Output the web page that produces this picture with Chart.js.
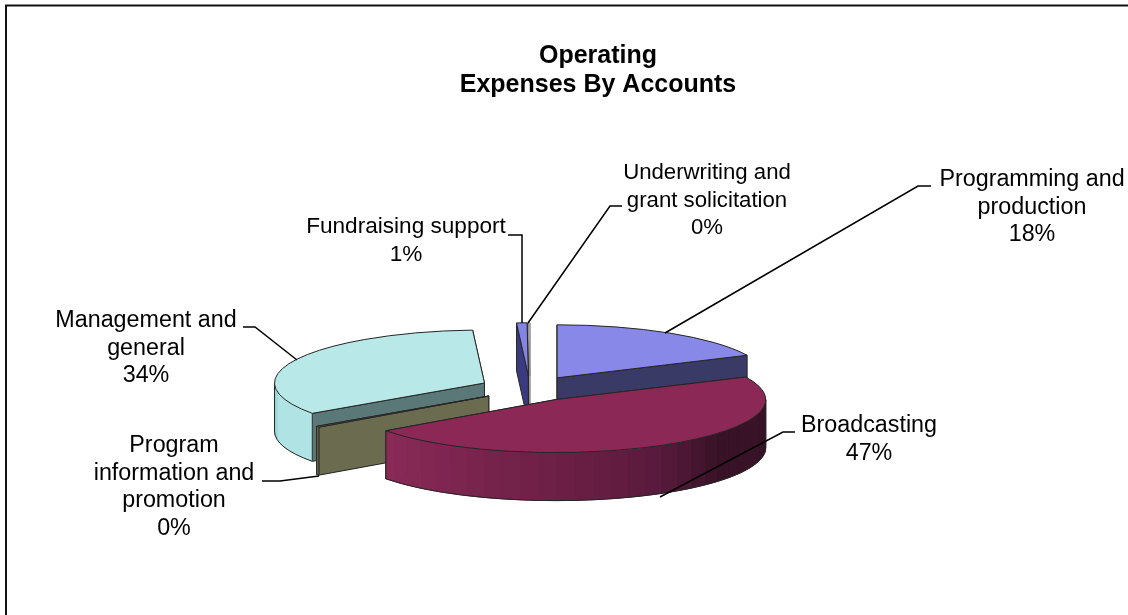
<!DOCTYPE html>
<html>
<head>
<meta charset="utf-8">
<style>html,body{margin:0;padding:0;background:#fff}canvas{display:block}</style>
<script src="https://cdn.jsdelivr.net/npm/chart.js@4"></script>
</head>
<body>
<canvas id="c" width="1128" height="615"></canvas>
<script>
const categories = ['Programming and production','Broadcasting','Program information and promotion','Management and general','Fundraising support','Underwriting and grant solicitation'];
const values = [18.0, 47.0, 0.3, 33.8, 0.8, 0.1];
const labelLines = [['Programming and','production'],['Broadcasting'],['Program','information and','promotion'],['Management and','general'],['Fundraising support'],['Underwriting and','grant solicitation']];
const topColors = ['#8888e8','#8b2855','#6b6b50','#b8e8e8','#8484e4','#ffffff'];
const edgeColors = ['#3a3a66','#3a1228','#6b6b50','#5a7878','#3a3a80','#ffffff'];
const rimStops = [
  [[0,'#3a3a66'],[180,'#3a3a66']],
  [[0,'#381226'],[40,'#381226'],[60,'#581a3c'],[85,'#6a1e44'],[144,'#8a2a58'],[180,'#8a2a58']],
  [[0,'#6b6b50'],[180,'#6b6b50']],
  [[0,'#b4e8e8'],[168,'#b0e4e4'],[180,'#8cc8c8']],
  [[0,'#3a3a80'],[180,'#3a3a80']],
  [[0,'#ffffff'],[180,'#ffffff']]
];
// label layout: text centre, first baseline, font size, leader polyline
const labelLayout = [
  {cx:1032,y:186,size:23.3,lead:[[931,186],[918,186],[665,333]]},
  {cx:869,y:432,size:23.3,lead:[[795,432],[783,432],[660,497]]},
  {cx:174,y:452,size:23.3,lead:[[262,481],[280,481],[319,476]]},
  {cx:146,y:327,size:23.3,lead:[[243,327],[255,327],[297,360]]},
  {cx:406,y:233,size:22.6,lead:[[508,235],[522,235],[522,323]]},
  {cx:707,y:179,size:22.2,lead:[[622,206],[610,206],[528,323]]}
];
const TILT = 0.2524, EXPLODE = 50.6, DEPTH = 48, LINE = 27.6;
const FONT_FAMILY = '"Liberation Sans", Arial, sans-serif';

function hex(c){return [1,3,5].map(i=>parseInt(c.substr(i,2),16));}
function rimColor(stops,deg){
  for(let i=1;i<stops.length;i++){
    if(deg<=stops[i][0]){
      const [a,ca]=stops[i-1],[b,cb]=stops[i];
      const t=(deg-a)/Math.max(b-a,1e-6),A=hex(ca),B=hex(cb);
      return 'rgb('+A.map((v,k)=>Math.round(v+(B[k]-v)*t)).join(',')+')';
    }
  }
  return stops[stops.length-1][1];
}

const pie3d = {
  id:'pie3d',
  afterLayout(chart){
    const t = chart.titleBlock;
    t.left += 68; t.right += 68;
  },
  beforeDraw(chart){
    const ctx = chart.ctx;
    ctx.save();
    ctx.fillStyle='#fff';ctx.fillRect(0,0,chart.width,chart.height);
    ctx.strokeStyle='#111';ctx.lineWidth=2;
    ctx.beginPath();ctx.moveTo(6,chart.height);ctx.lineTo(6,5.5);ctx.lineTo(chart.width,5.5);ctx.stroke();
    ctx.restore();
  },
  beforeDatasetDraw(chart,args){
    const ctx = chart.ctx, arcs = args.meta.data;
    const order = arcs.map((a,i)=>i).sort((p,q)=>{
      const m=i=>Math.sin((arcs[i].startAngle+arcs[i].endAngle)/2);
      return m(p)-m(q);
    });
    ctx.save();
    ctx.lineJoin='round';
    order.forEach(i=>{
      const a = arcs[i], r = a.outerRadius, ry = r*TILT;
      const mid = (a.startAngle+a.endAngle)/2;
      const ax = a.x + Math.cos(mid)*EXPLODE, ay = a.y + Math.sin(mid)*EXPLODE*TILT;
      const P = (ang,d)=>[ax+Math.cos(ang)*r, ay+Math.sin(ang)*ry+(d||0)];
      const outline = i===5 ? '#8a8a8a' : '#262626';
      ctx.lineWidth = 1; ctx.strokeStyle = outline;
      // radial walls, the one further back first
      [a.startAngle,a.endAngle].sort((u,v)=>Math.sin(u)-Math.sin(v)).forEach(ang=>{
        const p=P(ang);
        ctx.beginPath();ctx.moveTo(ax,ay);ctx.lineTo(p[0],p[1]);ctx.lineTo(p[0],p[1]+DEPTH);ctx.lineTo(ax,ay+DEPTH);ctx.closePath();
        ctx.fillStyle=edgeColors[i];ctx.fill();ctx.stroke();
      });
      // outer rim, front half only, banded
      const TAU=Math.PI*2;
      let s=a.startAngle,e=a.endAngle;
      for(const shift of [0,TAU,-TAU]){
        const lo=Math.max(s+shift,0),hi=Math.min(e+shift,Math.PI);
        if(hi<=lo) continue;
        const step=5*Math.PI/180;
        for(let t=lo;t<hi;t+=step){
          const u=Math.min(t+step,hi);
          ctx.beginPath();
          ctx.ellipse(ax,ay,r,ry,0,t,u);
          ctx.ellipse(ax,ay+DEPTH,r,ry,0,u,t,true);
          ctx.closePath();
          const col=rimColor(rimStops[i],((t+u)/2)*180/Math.PI);
          ctx.fillStyle=col;ctx.strokeStyle=col;ctx.fill();ctx.stroke();
        }
        ctx.strokeStyle=outline;
        ctx.beginPath();ctx.ellipse(ax,ay+DEPTH,r,ry,0,lo,hi);ctx.stroke();
        [lo,hi].forEach(t=>{const p=P(t);ctx.beginPath();ctx.moveTo(p[0],p[1]);ctx.lineTo(p[0],p[1]+DEPTH);ctx.stroke();});
      }
      // top face: the library's own arc element under a tilt transform
      ctx.save();
      ctx.translate(ax,ay);ctx.scale(1,TILT);ctx.translate(-a.x,-a.y);
      a.draw(ctx);
      ctx.restore();
      ctx.strokeStyle=outline;
      ctx.beginPath();ctx.moveTo(ax,ay);ctx.ellipse(ax,ay,r,ry,0,a.startAngle,a.endAngle);ctx.closePath();ctx.stroke();
    });
    ctx.restore();
    return false;
  },
  afterDraw(chart){
    const ctx = chart.ctx, total = values.reduce((p,q)=>p+q,0);
    ctx.save();
    ctx.fillStyle='#000';ctx.strokeStyle='#000';ctx.lineWidth=1.5;
    ctx.textAlign='center';ctx.textBaseline='alphabetic';
    labelLayout.forEach((l,i)=>{
      ctx.beginPath();
      l.lead.forEach((p,k)=>k?ctx.lineTo(p[0],p[1]):ctx.moveTo(p[0],p[1]));
      ctx.stroke();
      ctx.font=l.size+'px '+FONT_FAMILY;
      const lines = labelLines[i].concat([Math.round(values[i]/total*100)+'%']);
      lines.forEach((t,k)=>ctx.fillText(t,l.cx,l.y+k*LINE));
    });
    ctx.restore();
  }
};

new Chart(document.getElementById('c'),{
  type:'pie',
  data:{labels:categories,datasets:[{data:values,backgroundColor:topColors,borderWidth:0}]},
  plugins:[pie3d],
  options:{
    responsive:false,
    animation:false,
    radius:210,
    layout:{padding:{left:0,right:68,top:0,bottom:0}},
    plugins:{
      legend:{display:false},
      tooltip:{enabled:false},
      title:{display:true,text:['Operating','Expenses By Accounts'],color:'#000',
        font:{family:FONT_FAMILY,size:25,weight:'bold',lineHeight:1.15},
        padding:{top:42,bottom:62.7}}
    }
  }
});
</script>
</body>
</html>
